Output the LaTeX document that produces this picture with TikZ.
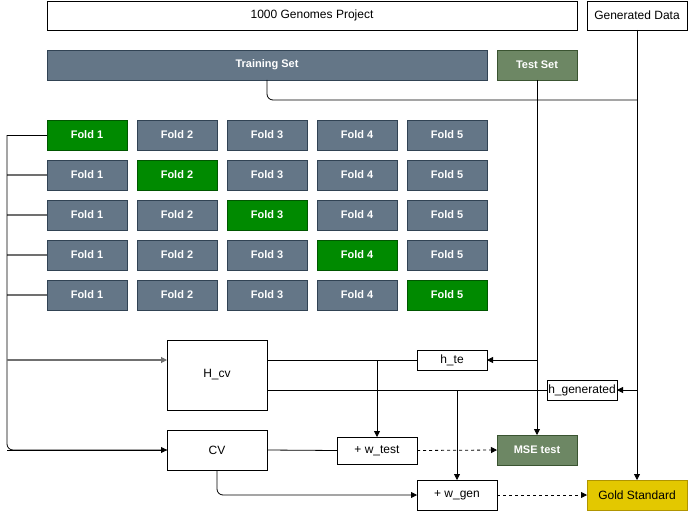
\documentclass[tikz,border=0pt]{standalone}
\usepackage{fontspec}
\setmainfont{Liberation Sans}
\usetikzlibrary{arrows.meta}
\definecolor{slatefill}{HTML}{647687}
\definecolor{slatedraw}{HTML}{314354}
\definecolor{greenfill}{HTML}{008A00}
\definecolor{greendraw}{HTML}{005700}
\definecolor{olivefill}{HTML}{6D8764}
\definecolor{olivedraw}{HTML}{3A5431}
\definecolor{goldfill}{HTML}{E3C800}
\definecolor{golddraw}{HTML}{B09500}
\definecolor{stubgray}{HTML}{707070}
\begin{document}
\begin{tikzpicture}[x=1pt,y=-1pt,
  box/.style={draw=black, fill=white, line width=0.8pt, inner sep=0pt, outer sep=0pt, anchor=north west, font=\fontsize{12}{14}\selectfont},
  slatebox/.style={box, draw=slatedraw, fill=slatefill, text=white, font=\fontsize{11}{13}\selectfont\bfseries},
  foldbox/.style={slatebox, minimum width=80pt, minimum height=30pt},
  foldsel/.style={foldbox, draw=greendraw, fill=greenfill},
  olivebox/.style={box, draw=olivedraw, fill=olivefill, text=white, font=\fontsize{11}{13}\selectfont\bfseries},
  goldbox/.style={box, draw=golddraw, fill=goldfill},
  conn/.style={draw=black, line width=0.8pt},
  arr/.style={conn, -{Triangle[length=6pt,width=6pt]}},
  darr/.style={arr, dash pattern=on 3pt off 3pt},
  stub/.style={draw=stubgray, line width=1.2pt}
]
\useasboundingbox (0,0) rectangle (688,511);

\node[box, minimum width=530pt, minimum height=29pt] (kg) at (47,1) {1000 Genomes Project};
\node[box, minimum width=100pt, minimum height=29pt] (gd) at (587,1) {Generated Data};
\node[slatebox, minimum width=440pt, minimum height=30pt] (train) at (47,50) {Training Set};
\node[olivebox, minimum width=80pt, minimum height=30pt] (test) at (497,50) {Test Set};

% folds
\foreach \r in {1,...,5}{
  \foreach \c in {1,...,5}{
    \pgfmathsetmacro{\xx}{47+90*(\c-1)}
    \pgfmathsetmacro{\yy}{120+40*(\r-1)}
    \ifnum\r=\c
      \node[foldsel] (f\r\c) at (\xx,\yy) {Fold \c};
    \else
      \node[foldbox] (f\r\c) at (\xx,\yy) {Fold \c};
    \fi
  }
}

\node[box, minimum width=100pt, minimum height=70pt] (hcv) at (167,340) {H\_cv};
\node[box, minimum width=100pt, minimum height=40pt] (cv) at (167,430) {CV};
\node[box, minimum width=70pt, minimum height=20pt] (hte) at (417,350) {h\_te};
\node[box, minimum width=70pt, minimum height=20pt] (hgen) at (547,380) {h\_generated};
\node[box, minimum width=80pt, minimum height=27pt] (wtest) at (337,437) {+ w\_test};
\node[olivebox, minimum width=80pt, minimum height=30pt] (mse) at (497,435) {MSE test};
\node[box, minimum width=80pt, minimum height=30pt] (wgen) at (417,480) {+ w\_gen};
\node[goldbox, minimum width=100pt, minimum height=30pt] (gold) at (587,480) {Gold Standard};

% coordinates
\coordinate (bus) at (7,135);
\coordinate (trj) at (637,100);
\coordinate (tte) at (537,360);
\coordinate (gdj) at (637,390);
\coordinate (hj1) at (377,360);
\coordinate (hj2) at (457,390);
\coordinate (hcvin) at (167,360);
\coordinate (hcvout) at (267,390);

% training set to generated data line
\draw[conn, rounded corners=6pt] (train.south) |- (trj);
% generated data down
\draw[arr] (gd.south) -- (gold.north);
\draw[arr] (gdj) -- (hgen.east);
% test set down
\draw[arr] (test.south) -- (mse.north);
\draw[arr] (tte) -- (hte.east);

% left bus
\foreach \r in {2,...,5}{
  \draw[stub] (f\r1.west) -- (f\r1.west -| bus);
}
\draw[conn] (f11.west) -- (bus);
\draw[conn, rounded corners=6pt] (bus) |- (cv.west);
\draw[arr] (bus |- cv.west) -- (cv.west);
\draw[arr, draw=stubgray, line width=1.1pt] (bus |- hcvin) -- (hcvin);

% H_cv outputs
\draw[conn] (hcv.east |- hte.west) -- (hte.west);
\draw[arr] (hj1) -- (wtest.north);
\draw[conn] (hcvout) -- (hgen.west);
\draw[arr] (hj2) -- (wgen.north);

% CV outputs
\draw[conn] (cv.east) -- (wtest.west);
\draw[arr, rounded corners=6pt] (cv.south) |- (wgen.west);

% dashed
\draw[darr] (wtest.east) -- (mse.west);
\draw[darr] (wgen.east) -- (gold.west);
\end{tikzpicture}
\end{document}
